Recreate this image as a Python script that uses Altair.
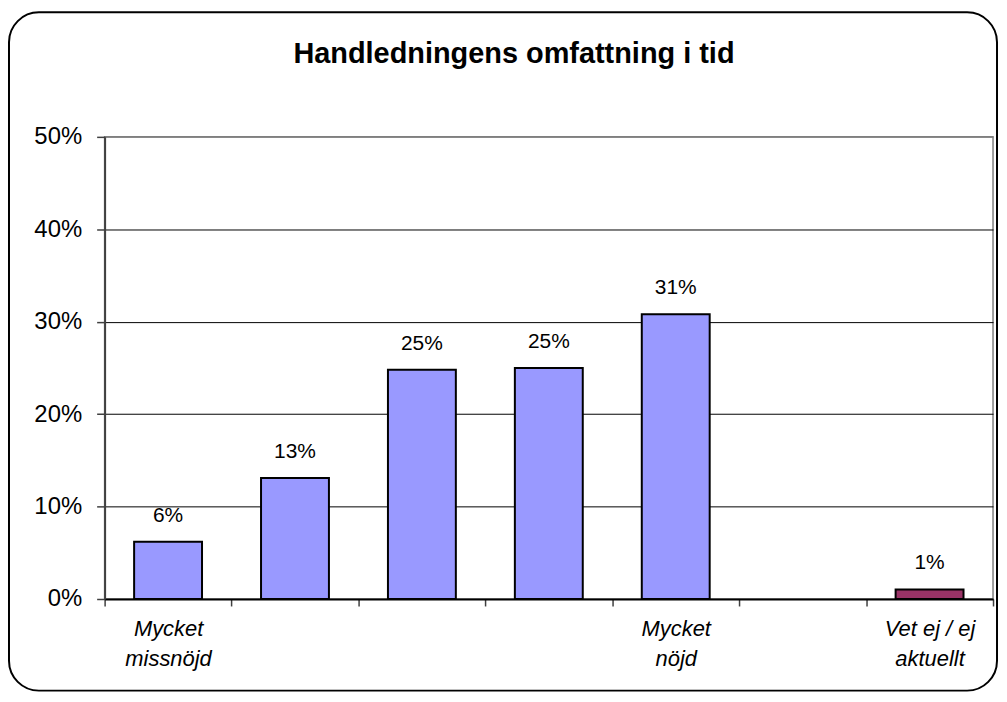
import json
import altair as alt
import pandas as pd

# ---- data ----
titel = "Handledningens omfattning i tid"
koder = [1, 2, 3, 4, 5, 6, 7]
etiketter = ["Mycket\nmissnöjd", "", "", "", "Mycket\nnöjd", "", "Vet ej / ej\naktuellt"]
andelar = [0.062, 0.131, 0.248, 0.250, 0.308, None, 0.0104]
farger = ["#9999FF", "#9999FF", "#9999FF", "#9999FF", "#9999FF", "#9999FF", "#993366"]
y_ticks = [0, 0.1, 0.2, 0.3, 0.4, 0.5]

df = pd.DataFrame({"kod": koder, "andel": andelar, "farg": farger})

label_arr = json.dumps([l.split("\n") if l else "" for l in etiketter], ensure_ascii=False)
label_expr = f"{label_arr}[datum.value - 1]"

FONT = "Liberation Sans"
W, H = 892, 464

x_enc = alt.X(
    "kod:O",
    scale=alt.Scale(domain=koder, paddingInner=0, paddingOuter=0),
    axis=alt.Axis(
        title=None,
        labelExpr=label_expr,
        labelAngle=0,
        labelFont=FONT,
        labelFontSize=22,
        labelFontStyle="italic",
        labelColor="black",
        labelLineHeight=30,
        labelPadding=13,
        tickBand="extent",
        tickSize=7,
        tickColor="#404040",
        tickWidth=1.5,
        domainColor="black",
        domainWidth=2,
        grid=False,
    ),
)
y_enc = alt.Y(
    "andel:Q",
    scale=alt.Scale(domain=[0, 0.5]),
    axis=alt.Axis(
        title=None,
        values=y_ticks,
        format=".0%",
        labelFont=FONT,
        labelFontSize=24,
        labelColor="black",
        labelPadding=15,
        tickSize=8,
        tickColor="#404040",
        tickWidth=1.5,
        domainColor="#404040",
        domainWidth=2,
        grid=True,
        gridColor=alt.condition("datum.value >= 0.5", alt.value("#808080"), alt.value("black")),
        gridWidth=1,
    ),
)

base = alt.Chart(df)
bars = base.mark_bar(stroke="black", strokeWidth=2, width={"band": 0.535}).encode(
    x=x_enc, y=y_enc, color=alt.Color("farg:N", scale=None)
)
texts = base.mark_text(
    dy=-20, baseline="alphabetic", font=FONT, fontSize=21, color="black"
).encode(x=alt.X("kod:O"), y=alt.Y("andel:Q"), text=alt.Text("andel:Q", format=".0%"))

frame = alt.Chart(pd.DataFrame({"a": [0]})).mark_rect(
    fill="white", fillOpacity=0, stroke="black", strokeWidth=2, cornerRadius=30
).encode(x=alt.value(-96), x2=alt.value(896), y=alt.value(-125), y2=alt.value(556))

title_mark = alt.Chart(pd.DataFrame({"t": [titel]})).mark_text(
    font=FONT, fontSize=29, fontWeight="bold", color="black", align="center", baseline="alphabetic"
).encode(text="t:N", x=alt.value(411), y=alt.value(-74))

chart = (
    alt.layer(frame, bars, texts, title_mark)
    .properties(
        width=W,
        height=H,
        autosize=alt.AutoSizeParams(type="none"),
        padding={"left": 97, "top": 128, "right": 6, "bottom": 93},
        background="white",
    )
    .configure_view(stroke="#808080", strokeWidth=1.5)
)

chart.save("out.html", embed_options={"renderer": "svg", "actions": False})
